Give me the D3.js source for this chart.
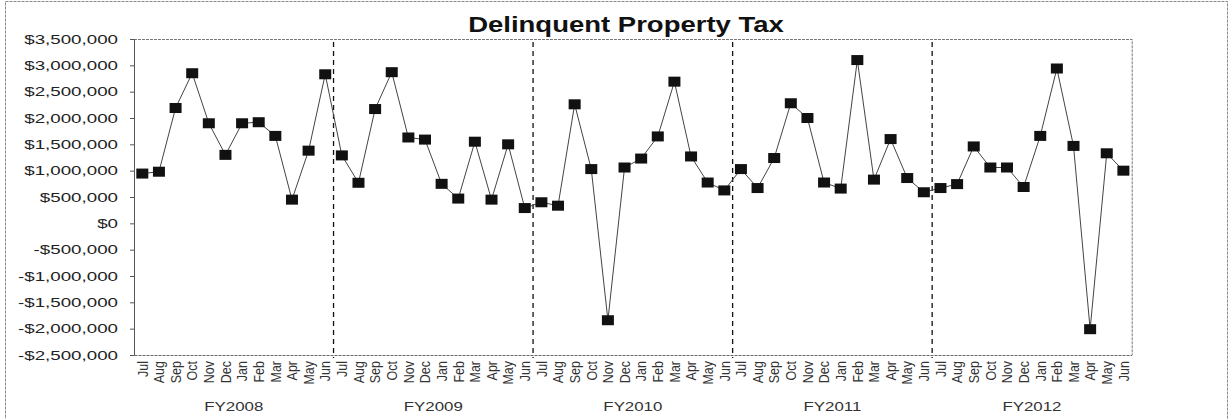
<!DOCTYPE html>
<html>
<head>
<meta charset="utf-8">
<script src="https://cdn.jsdelivr.net/npm/d3@7"></script>
<style>
  body { margin: 0; background: #fff; }
  text { font-family: "Liberation Sans", Arial, sans-serif; }
</style>
</head>
<body>
<div id="chart"></div>
<script>
const months = ["Jul", "Aug", "Sep", "Oct", "Nov", "Dec", "Jan", "Feb", "Mar", "Apr", "May", "Jun"];
const fiscalYears = ["FY2008", "FY2009", "FY2010", "FY2011", "FY2012"];

const fy2008 = [945000, 980000, 2190000, 2850000, 1900000, 1300000, 1900000, 1920000, 1660000, 450000, 1380000, 2830000];
const fy2009 = [1290000, 770000, 2170000, 2870000, 1630000, 1590000, 750000, 470000, 1550000, 450000, 1500000, 290000];
const fy2010 = [400000, 335000, 2260000, 1030000, -1840000, 1060000, 1230000, 1650000, 2690000, 1270000, 775000, 625000];
const fy2011 = [1030000, 670000, 1240000, 2280000, 2000000, 775000, 660000, 3100000, 830000, 1600000, 860000, 590000];
const fy2012 = [670000, 745000, 1460000, 1060000, 1060000, 690000, 1660000, 2940000, 1470000, -2010000, 1330000, 1000000];

const yTicks = [3500000, 3000000, 2500000, 2000000, 1500000, 1000000, 500000, 0, -500000, -1000000, -1500000, -2000000, -2500000];

const title = "Delinquent Property Tax";

// flatten into one series
let series = [fy2008, fy2009, fy2010, fy2011, fy2012];
let data = [];
series.forEach(function(vals, fi) {
    vals.forEach(function(v, mi) {
        data.push({i: fi * 12 + mi, fy: fiscalYears[fi], month: months[mi], value: v});
    });
});

let W = 1230, H = 419;
let plot = {left: 134, right: 1131.7, top: 39, bottom: 355};

let svg = d3.select("#chart")
    .append("svg")
    .attr("width", W)
    .attr("height", H);

// outer frame
svg.append("rect")
    .attr("x", 5.5).attr("y", 1.5)
    .attr("width", 1222).attr("height", 430)
    .attr("fill", "none")
    .attr("stroke", "#888")
    .attr("stroke-width", 1)
    .attr("stroke-dasharray", "3,1");

let x = d3.scaleBand()
    .domain(d3.range(data.length))
    .range([plot.left, plot.right])
    .padding(0);

let y = d3.scaleLinear()
    .domain([-2500000, 3500000])
    .range([plot.bottom, plot.top]);

function money(v) {
    let s = d3.format(",")(Math.abs(v));
    return (v < 0 ? "-$" : "$") + s;
}

// plot border (top and right)
svg.append("path")
    .attr("d", "M" + plot.left + "," + (plot.top + 0.5) + "H" + (plot.right + 0.5) + "V" + plot.bottom)
    .attr("fill", "none")
    .attr("stroke", "#777")
    .attr("stroke-width", 1)
    .attr("stroke-dasharray", "3,1");

// y axis (text is stretched wide like the scanned original)
let yAxis = svg.append("g")
    .attr("transform", "translate(" + plot.left + ",0)")
    .call(d3.axisLeft(y).tickValues(yTicks).tickFormat(money).tickSize(4));
yAxis.select(".domain").attr("stroke", "#555");
yAxis.selectAll(".tick line").attr("stroke", "#555");
yAxis.selectAll("text")
    .attr("x", 0)
    .attr("transform", "translate(-16,0) scale(1.5,1)")
    .style("font-size", "12.5px")
    .attr("fill", "#222");

// x axis with month labels
let xAxis = svg.append("g")
    .attr("transform", "translate(0," + plot.bottom + ")")
    .call(d3.axisBottom(x).tickSize(0).tickFormat(function(i) { return data[i].month; }));
xAxis.select(".domain")
    .attr("stroke", "#666")
    .attr("stroke-dasharray", "3,1");
xAxis.selectAll("text")
    .attr("transform", "rotate(-90) scale(1,1.2)")
    .attr("x", -6)
    .attr("y", 0)
    .attr("dy", "0.35em")
    .style("text-anchor", "end")
    .style("font-size", "12.5px")
    .attr("fill", "#333");

// fiscal year dividers
let dividers = d3.range(1, fiscalYears.length).map(function(k) { return x(k * 12); });
svg.selectAll(".divider")
    .data(dividers)
    .enter()
    .append("line")
    .attr("class", "divider")
    .attr("x1", function(d) { return d; })
    .attr("x2", function(d) { return d; })
    .attr("y1", plot.top + 3)
    .attr("y2", plot.bottom + 3)
    .attr("stroke", "#111")
    .attr("stroke-width", 1.3)
    .attr("stroke-dasharray", "5,4");

// fiscal year labels
svg.selectAll(".fy")
    .data(fiscalYears)
    .enter()
    .append("text")
    .attr("class", "fy")
    .attr("transform", function(d, k) {
        return "translate(" + (x(k * 12) + x.step() * 6) + ",411) scale(1.35,1)";
    })
    .attr("text-anchor", "middle")
    .style("font-size", "12.5px")
    .attr("fill", "#333")
    .text(function(d) { return d; });

// line
let line = d3.line()
    .x(function(d) { return x(d.i) + x.bandwidth() / 2; })
    .y(function(d) { return y(d.value); });

svg.append("path")
    .datum(data)
    .attr("d", line)
    .attr("fill", "none")
    .attr("stroke", "#444")
    .attr("stroke-width", 1);

// markers
let mw = 12, mh = 10;
svg.selectAll(".pt")
    .data(data)
    .enter()
    .append("rect")
    .attr("class", "pt")
    .attr("x", function(d) { return x(d.i) + x.bandwidth() / 2 - mw / 2; })
    .attr("y", function(d) { return y(d.value) - mh / 2; })
    .attr("width", mw)
    .attr("height", mh)
    .attr("fill", "#111");

// title
svg.append("text")
    .attr("transform", "translate(626,32) scale(1.25,1)")
    .attr("text-anchor", "middle")
    .style("font-size", "22px")
    .style("font-weight", "bold")
    .attr("fill", "#111")
    .text(title);
</script>
</body>
</html>
